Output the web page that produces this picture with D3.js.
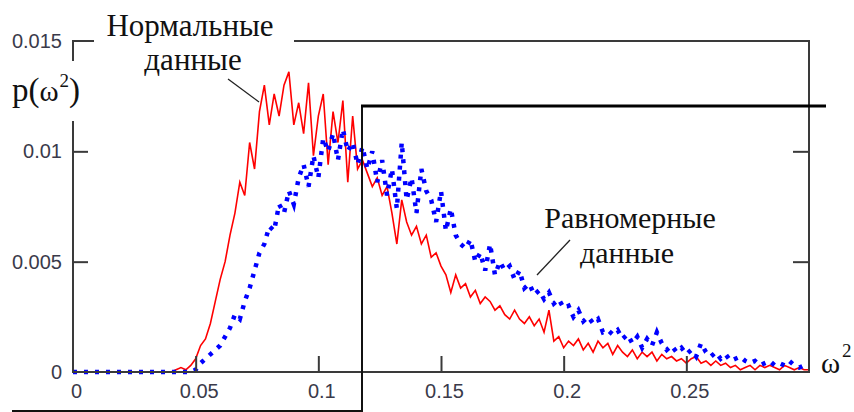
<!DOCTYPE html>
<html>
<head>
<meta charset="utf-8">
<script src="https://cdn.jsdelivr.net/npm/d3@7"></script>
<style>
  body { margin: 0; background: #fff; }
  .tick-label { font-family: "Liberation Sans Narrow", "Arial Narrow", "Liberation Sans", sans-serif; font-size: 20px; fill: #3a3a4a; }
  .note { font-family: "Liberation Serif", "Times New Roman", serif; font-size: 31px; fill: #111; }
</style>
</head>
<body>
<div id="vis"></div>
<script>
const FRAME_WIDTH = 854;
const FRAME_HEIGHT = 412;
const MARGINS = {left: 73, right: 45, top: 41, bottom: 40};

// omega^2 grid, step 0.002 from 0 to 0.3
const omega2 = d3.range(151).map(i => +(i * 0.002).toFixed(3));

// p(omega^2) in units of 1e-4, normal data (red)
const normalData = [
  0, 0, 0, 0, 0, 0, 0, 0, 0, 0,
  0, 0, 0, 0, 0, 0, 0, 0, 0, 0,
  0, 1, 2, 1, 3, 6, 12, 15, 22, 32,
  42, 50, 62, 72, 86, 80, 104, 92, 118, 130,
  112, 126, 116, 130, 136, 112, 122, 108, 131, 98,
  116, 126, 94, 118, 104, 123, 86, 116, 92, 96,
  90, 84, 88, 80, 84, 72, 58, 78, 68, 62,
  66, 58, 62, 52, 54, 48, 44, 36, 44, 38,
  40, 34, 37, 31, 34, 32, 28, 30, 26, 24,
  28, 24, 22, 25, 21, 24, 18, 28, 14, 16,
  11, 14, 12, 15, 10, 13, 9, 14, 11, 13,
  8, 12, 9, 7, 10, 6, 9, 7, 9, 5,
  8, 6, 7, 5, 6, 4, 6, 7, 4, 5,
  3, 5, 3, 4, 2, 3, 1, 2, 3, 1,
  3, 2, 3, 2, 1, 3, 2, 1, 2, 1,
  1
];

// p(omega^2) in units of 1e-4, uniform data (blue)
const uniformData = [
  0, 0, 0, 0, 0, 0, 0, 0, 0, 0,
  0, 0, 0, 0, 0, 0, 0, 0, 0, 0,
  0, 0, 0, 0, 0, 1, 4, 6, 8, 10,
  12, 16, 20, 26, 24, 32, 38, 46, 54, 58,
  66, 64, 76, 72, 82, 76, 88, 94, 84, 98,
  88, 106, 100, 108, 96, 110, 100, 104, 94, 102,
  92, 100, 86, 96, 80, 92, 74, 104, 78, 88,
  72, 92, 82, 78, 68, 82, 64, 74, 62, 58,
  56, 60, 50, 54, 46, 58, 44, 50, 46, 48,
  42, 46, 38, 40, 35, 37, 33, 36, 31, 33,
  29, 30, 25, 28, 23, 25, 22, 24, 18, 19,
  17, 19, 15, 17, 13, 16, 11, 15, 12, 18,
  13, 10, 12, 9, 11, 8, 10, 7, 13, 9,
  7, 9, 6, 8, 5, 6, 7, 5, 4, 5,
  3, 4, 5, 3, 4, 3, 5, 3, 2, 3,
  2
];

const xTicks = [0, 0.05, 0.1, 0.15, 0.2, 0.25];
const xTickLabels = ['0', '0.05', '0.1', '0.15', '0.2', '0.25'];
const yTicks = [0, 0.005, 0.01, 0.015];
const yTickLabels = ['0', '0.005', '0.01', '0.015'];

const svg = d3.select('#vis')
  .append('svg')
    .attr('width', FRAME_WIDTH)
    .attr('height', FRAME_HEIGHT);

const X_SCALE = d3.scaleLinear().domain([0, 0.3]).range([MARGINS.left, FRAME_WIDTH - MARGINS.right]);
const Y_SCALE = d3.scaleLinear().domain([0, 0.015]).range([FRAME_HEIGHT - MARGINS.bottom, MARGINS.top]);

const x0 = X_SCALE(0), x1 = X_SCALE(0.3);
const y0 = Y_SCALE(0), y1 = Y_SCALE(0.015);
const AXIS_COLOR = '#3a3a3a';

// data lines
const line = d3.line()
  .x((d, i) => X_SCALE(omega2[i]))
  .y(d => Y_SCALE(d * 1e-4));

svg.append('path')
  .datum(normalData)
  .attr('d', line)
  .attr('fill', 'none')
  .attr('stroke', '#ff0000')
  .attr('stroke-width', 1.6);

svg.append('path')
  .datum(uniformData)
  .attr('d', line)
  .attr('fill', 'none')
  .attr('stroke', '#0000ff')
  .attr('stroke-width', 4.5)
  .attr('stroke-dasharray', '4,7');

// axes (ticks point inward)
const bottomAxis = svg.append('g')
  .attr('transform', `translate(0,${y0})`)
  .call(d3.axisBottom(X_SCALE).tickValues(xTicks).tickSize(-16).tickPadding(12)
    .tickFormat((d, i) => xTickLabels[i]));
bottomAxis.select('.domain').remove();

const leftAxis = svg.append('g')
  .attr('transform', `translate(${x0},0)`)
  .call(d3.axisLeft(Y_SCALE).tickValues(yTicks).tickSize(-15).tickPadding(11)
    .tickFormat((d, i) => yTickLabels[i]));
leftAxis.select('.domain').remove();

const rightAxis = svg.append('g')
  .attr('transform', `translate(${x1},0)`)
  .call(d3.axisRight(Y_SCALE).tickValues([0.005, 0.01]).tickSize(-16).tickFormat(''));
rightAxis.select('.domain').remove();

svg.selectAll('.tick line')
  .attr('stroke', AXIS_COLOR)
  .attr('stroke-width', 2)
  .attr('display', d => (d === 0 || d === 0.015) ? 'none' : null);

svg.selectAll('.tick text')
  .attr('class', 'tick-label')
  .attr('fill', null);
bottomAxis.selectAll('.tick text').attr('dx', 3);

// plot frame, broken where the labels sit
const frameSegments = [
  [x0, y1, x0, 60], [x0, 122, x0, y0],
  [x0, y1, 93, y1], [295, y1, x1, y1],
  [x1, y1, x1, y0], [x0, y0, x1, y0]
];
svg.append('g').selectAll('line')
  .data(frameSegments)
  .join('line')
    .attr('x1', d => d[0]).attr('y1', d => d[1])
    .attr('x2', d => d[2]).attr('y2', d => d[3])
    .attr('stroke', AXIS_COLOR)
    .attr('stroke-width', 2)
    .attr('stroke-linecap', 'square');

// axis titles
const yTitle = svg.append('text')
  .attr('class', 'note')
  .attr('x', 12)
  .attr('y', 101)
  .style('font-size', '33px');
yTitle.append('tspan').text('p(');
yTitle.append('tspan').text('ω').style('font-size', '29px');
yTitle.append('tspan').text('2').attr('dy', -14).attr('dx', 1).style('font-size', '19px');
yTitle.append('tspan').text(')').attr('dy', 14);

const xTitle = svg.append('text')
  .attr('class', 'note')
  .attr('x', 821)
  .attr('y', 373)
  .style('font-size', '29px');
xTitle.append('tspan').text('ω');
xTitle.append('tspan').text('2').attr('dy', -16).attr('dx', 2).style('font-size', '19px');

// annotations
svg.append('text').attr('class', 'note').attr('x', 190).attr('y', 36)
  .attr('text-anchor', 'middle').text('Нормальные');
svg.append('text').attr('class', 'note').attr('x', 193).attr('y', 70)
  .attr('text-anchor', 'middle').text('данные');
svg.append('line')
  .attr('x1', 228).attr('y1', 79).attr('x2', 259).attr('y2', 102)
  .attr('stroke', '#222').attr('stroke-width', 1.3);

svg.append('text').attr('class', 'note').attr('x', 630).attr('y', 228)
  .style('font-size', '30px')
  .attr('text-anchor', 'middle').text('Равномерные');
svg.append('text').attr('class', 'note').attr('x', 627).attr('y', 263)
  .style('font-size', '30px')
  .attr('text-anchor', 'middle').text('данные');
svg.append('line')
  .attr('x1', 537).attr('y1', 275).attr('x2', 570).attr('y2', 240)
  .attr('stroke', '#222').attr('stroke-width', 1.3);

// leftover selection outline drawn over the chart
svg.append('path')
  .attr('d', 'M12,411 H362 V105')
  .attr('fill', 'none')
  .attr('stroke', '#111')
  .attr('stroke-width', 2);
svg.append('line')
  .attr('x1', 361).attr('y1', 106).attr('x2', 826).attr('y2', 106)
  .attr('stroke', '#000')
  .attr('stroke-width', 3);
</script>
</body>
</html>
